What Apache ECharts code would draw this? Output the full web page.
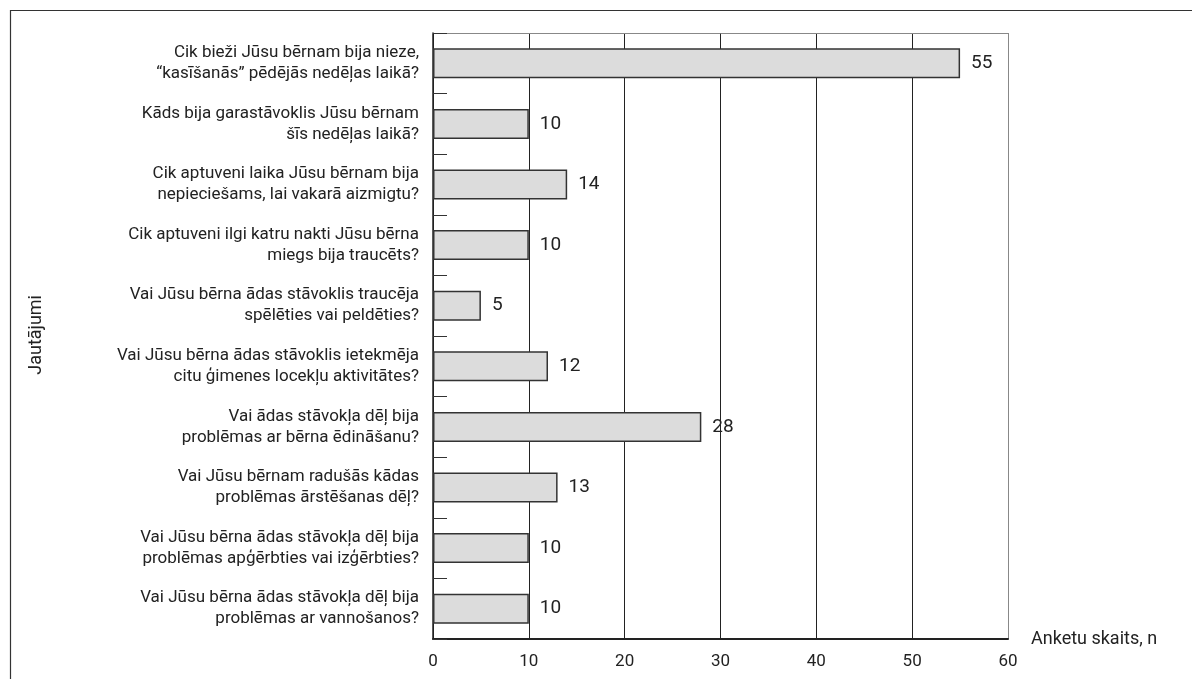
<!DOCTYPE html>
<html><head><meta charset="utf-8">
<script src="https://cdn.jsdelivr.net/npm/echarts@6/dist/echarts.min.js"></script>
<style>html,body{margin:0;padding:0;background:#fff}#c{width:1192px;height:679px}</style>
</head><body><div id="c"></div>
<script>
const categories = [
  "Cik bieži Jūsu bērnam bija nieze,\n“kasīšanās” pēdējās nedēļas laikā?",
  "Kāds bija garastāvoklis Jūsu bērnam\nšīs nedēļas laikā?",
  "Cik aptuveni laika Jūsu bērnam bija\nnepieciešams, lai vakarā aizmigtu?",
  "Cik aptuveni ilgi katru nakti Jūsu bērna\nmiegs bija traucēts?",
  "Vai Jūsu bērna ādas stāvoklis traucēja\nspēlēties vai peldēties?",
  "Vai Jūsu bērna ādas stāvoklis ietekmēja\ncitu ģimenes locekļu aktivitātes?",
  "Vai ādas stāvokļa dēļ bija\nproblēmas ar bērna ēdināšanu?",
  "Vai Jūsu bērnam radušās kādas\nproblēmas ārstēšanas dēļ?",
  "Vai Jūsu bērna ādas stāvokļa dēļ bija\nproblēmas apģērbties vai izģērbties?",
  "Vai Jūsu bērna ādas stāvokļa dēļ bija\nproblēmas ar vannošanos?"
];
const values = [55, 10, 14, 10, 5, 12, 28, 13, 10, 10];
const xTicks = [0, 10, 20, 30, 40, 50, 60];
const yAxisName = "Jautājumi";
const xAxisName = "Anketu skaits, n";

const FONT = "Roboto, sans-serif";
const chart = echarts.init(document.getElementById('c'));
chart.setOption({
  animation: false,
  textStyle: { fontFamily: FONT, color: '#222' },
  graphic: [{
    type: 'polyline', silent: true,
    shape: { points: [[1192, 10.5], [10.5, 10.5], [10.5, 679]] },
    style: { stroke: '#333', lineWidth: 1.2, fill: null }
  }, {
    type: 'text', left: 27, top: 295, rotation: Math.PI / 2,
    style: { text: yAxisName, font: "18px " + FONT, fill: '#222' }
  }],
  grid: { left: 433, top: 33, right: 184, bottom: 40 },
  xAxis: [{
    type: 'value', min: 0, max: 60, interval: 10, position: 'bottom',
    axisLine: { show: true, lineStyle: { color: '#222', width: 2 } },
    axisTick: { show: false },
    axisLabel: { fontSize: 17, color: '#222', margin: 14, fontFamily: FONT,
      formatter: v => xTicks.includes(v) ? String(v) : '' },
    splitLine: { show: true, lineStyle: { color: ['#222','#222','#222','#222','#222','#222','#888'], width: 1 } },
    name: xAxisName, nameLocation: 'end', nameGap: 23,
    nameTextStyle: { fontSize: 18, color: '#222', fontFamily: FONT, verticalAlign: 'middle', padding: [0,0,0,0] }
  }, {
    type: 'value', min: 0, max: 60, interval: 10, position: 'top',
    axisLine: { show: true, lineStyle: { color: '#888', width: 1 } },
    axisTick: { show: false }, axisLabel: { show: false }, splitLine: { show: false }
  }],
  yAxis: {
    type: 'category', inverse: true, data: categories,
    axisLine: { show: true, lineStyle: { color: '#222', width: 1.5 } },
    axisTick: { show: true, inside: true, length: 14, lineStyle: { color: '#333', width: 1 } },
    axisLabel: { fontSize: 17, lineHeight: 21, color: '#222', margin: 14, align: 'right', fontFamily: FONT }
  },
  series: [{
    type: 'bar', data: values, barWidth: 30, xAxisIndex: 0,
    itemStyle: { color: '#dcdcdc', borderColor: '#333', borderWidth: 1.5 },
    label: { show: true, position: 'right', distance: 11, fontSize: 19, color: '#222', fontFamily: FONT }
  }]
});
</script></body></html>
